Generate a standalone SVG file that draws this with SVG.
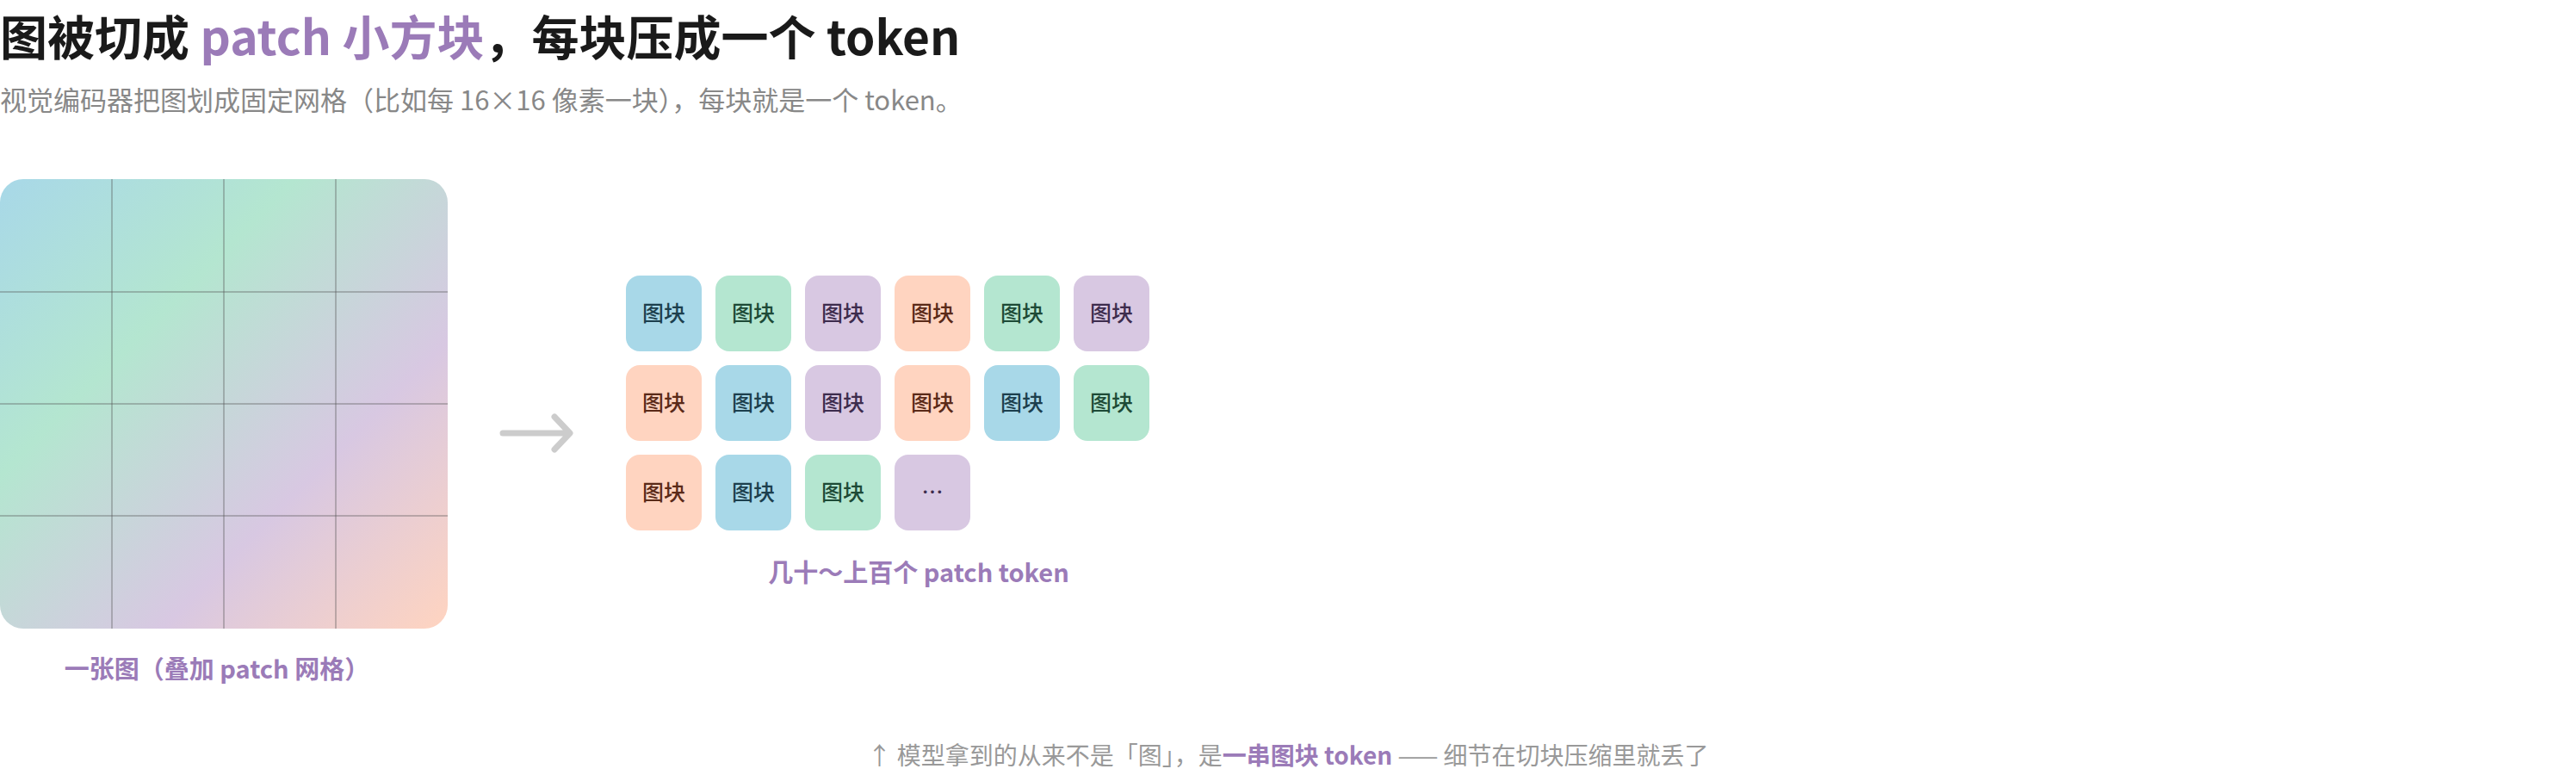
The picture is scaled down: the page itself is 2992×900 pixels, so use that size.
<svg xmlns="http://www.w3.org/2000/svg" width="2992" height="900" viewBox="0 0 2992 900">
<style>
text{font-family:"Noto Sans CJK SC","Liberation Sans",sans-serif}
.t{font-size:25px;font-weight:500;text-anchor:middle}
.lbl{font-size:29px;font-weight:700;fill:#9b7bb8;text-anchor:middle}
.b{fill:#a8d8e8}.g{fill:#b4e6d0}.p{fill:#d8c8e2}.o{fill:#ffd4c0}
.tb{fill:#1c3f4d}.tg{fill:#1d4a36}.tp{fill:#3d2c4d}.to{fill:#5a2a18}
.grid line{stroke:#555;stroke-opacity:0.45;stroke-width:1.5}
</style>
<defs>
<linearGradient id="img" x1="0" y1="0" x2="1" y2="1">
<stop offset="0" stop-color="#a8d8e8"/>
<stop offset="0.33" stop-color="#b4e6d0"/>
<stop offset="0.68" stop-color="#d8c8e2"/>
<stop offset="1" stop-color="#ffd4c0"/>
</linearGradient>
</defs>
<rect width="2992" height="900" fill="#fff"/>
<g id="title">
<text x="0" y="64" font-size="55" font-weight="700" fill="#1a1a1a">图被切成 <tspan fill="#9b7bb8">patch 小方块</tspan>，每块压成一个 token</text>
<text x="0" y="128" font-size="31" fill="#888">视觉编码器把图划成固定网格（比如每 16×16 像素一块），每块就是一个 token。</text>
</g>
<g id="image">
<rect x="0" y="208" width="520" height="522" rx="27" fill="url(#img)"/>
<g class="grid">
<line x1="130" y1="208" x2="130" y2="730"/><line x1="260" y1="208" x2="260" y2="730"/><line x1="390" y1="208" x2="390" y2="730"/>
<line x1="0" y1="339" x2="520" y2="339"/><line x1="0" y1="469" x2="520" y2="469"/><line x1="0" y1="599" x2="520" y2="599"/>
</g>
<text class="lbl" x="252" y="788">一张图（叠加 patch 网格）</text>
</g>
<g id="connectors">
<path d="M584 503 H660 M644 484 L662 503 L644 522" fill="none" stroke="#ccc" stroke-width="7" stroke-linecap="round" stroke-linejoin="round"/>
</g>
<g id="tokens">
<g transform="translate(727,320)">
<rect class="b" x="0" y="0" width="88" height="88" rx="16"/><text class="t tb" x="44" y="53">图块</text>
<rect class="g" x="104" y="0" width="88" height="88" rx="16"/><text class="t tg" x="148" y="53">图块</text>
<rect class="p" x="208" y="0" width="88" height="88" rx="16"/><text class="t tp" x="252" y="53">图块</text>
<rect class="o" x="312" y="0" width="88" height="88" rx="16"/><text class="t to" x="356" y="53">图块</text>
<rect class="g" x="416" y="0" width="88" height="88" rx="16"/><text class="t tg" x="460" y="53">图块</text>
<rect class="p" x="520" y="0" width="88" height="88" rx="16"/><text class="t tp" x="564" y="53">图块</text>
<rect class="o" x="0" y="104" width="88" height="88" rx="16"/><text class="t to" x="44" y="157">图块</text>
<rect class="b" x="104" y="104" width="88" height="88" rx="16"/><text class="t tb" x="148" y="157">图块</text>
<rect class="p" x="208" y="104" width="88" height="88" rx="16"/><text class="t tp" x="252" y="157">图块</text>
<rect class="o" x="312" y="104" width="88" height="88" rx="16"/><text class="t to" x="356" y="157">图块</text>
<rect class="b" x="416" y="104" width="88" height="88" rx="16"/><text class="t tb" x="460" y="157">图块</text>
<rect class="g" x="520" y="104" width="88" height="88" rx="16"/><text class="t tg" x="564" y="157">图块</text>
<rect class="o" x="0" y="208" width="88" height="88" rx="16"/><text class="t to" x="44" y="261">图块</text>
<rect class="b" x="104" y="208" width="88" height="88" rx="16"/><text class="t tb" x="148" y="261">图块</text>
<rect class="g" x="208" y="208" width="88" height="88" rx="16"/><text class="t tg" x="252" y="261">图块</text>
<rect class="p" x="312" y="208" width="88" height="88" rx="16"/><text class="t tp" x="356" y="261">…</text>
</g>
<text class="lbl" x="1067" y="676">几十～上百个 patch token</text>
</g>
<g id="footer">
<text x="1496" y="888" font-size="28" fill="#999" text-anchor="middle">↑ 模型拿到的从来不是「图」，是<tspan fill="#9b7bb8" font-weight="700">一串图块 token</tspan> —— 细节在切块压缩里就丢了</text>
</g>
</svg>
